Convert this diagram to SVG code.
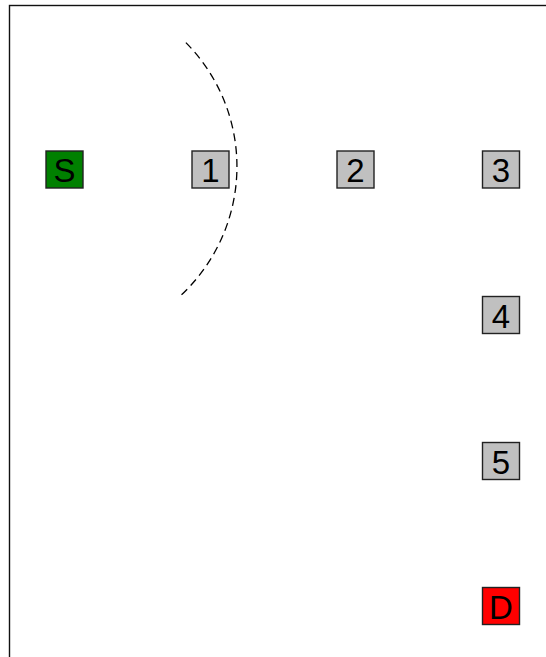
<svg xmlns="http://www.w3.org/2000/svg" width="546" height="657" viewBox="0 0 546 657">
<style>
.box{stroke:#222;stroke-width:1.4}
.n{fill:#c0c0c0}
.lbl{font-family:"Liberation Sans",Arial,sans-serif;font-size:33px;text-anchor:middle;fill:#000}
.range{fill:none;stroke:#000;stroke-width:1.3;stroke-dasharray:8,5}
</style>
<rect x="9.5" y="5.5" width="600" height="700" fill="#fff" stroke="#111" stroke-width="1.4"/>
<g id="connectors">
<path class="range" d="M 185.9 42.6 A 176 176 0 0 1 180.4 295.8"/>
</g>
<g id="S"><rect class="box" x="46" y="151" width="37" height="37" fill="#008000"/><text class="lbl" x="64.5" y="182">S</text></g>
<g id="n1"><rect class="box n" x="192" y="151" width="37" height="37"/><text class="lbl" x="210.5" y="182">1</text></g>
<g id="n2"><rect class="box n" x="337" y="151" width="37" height="37"/><text class="lbl" x="355.5" y="182">2</text></g>
<g id="n3"><rect class="box n" x="482.5" y="151" width="37" height="37"/><text class="lbl" x="501" y="182">3</text></g>
<g id="n4"><rect class="box n" x="482.5" y="296.5" width="37" height="37"/><text class="lbl" x="501" y="327.5">4</text></g>
<g id="n5"><rect class="box n" x="482.5" y="442.5" width="37" height="37"/><text class="lbl" x="501" y="473.5">5</text></g>
<g id="D"><rect class="box" x="482.5" y="587.5" width="37" height="37" fill="#ff0000"/><text class="lbl" x="501" y="618.5">D</text></g>
</svg>
